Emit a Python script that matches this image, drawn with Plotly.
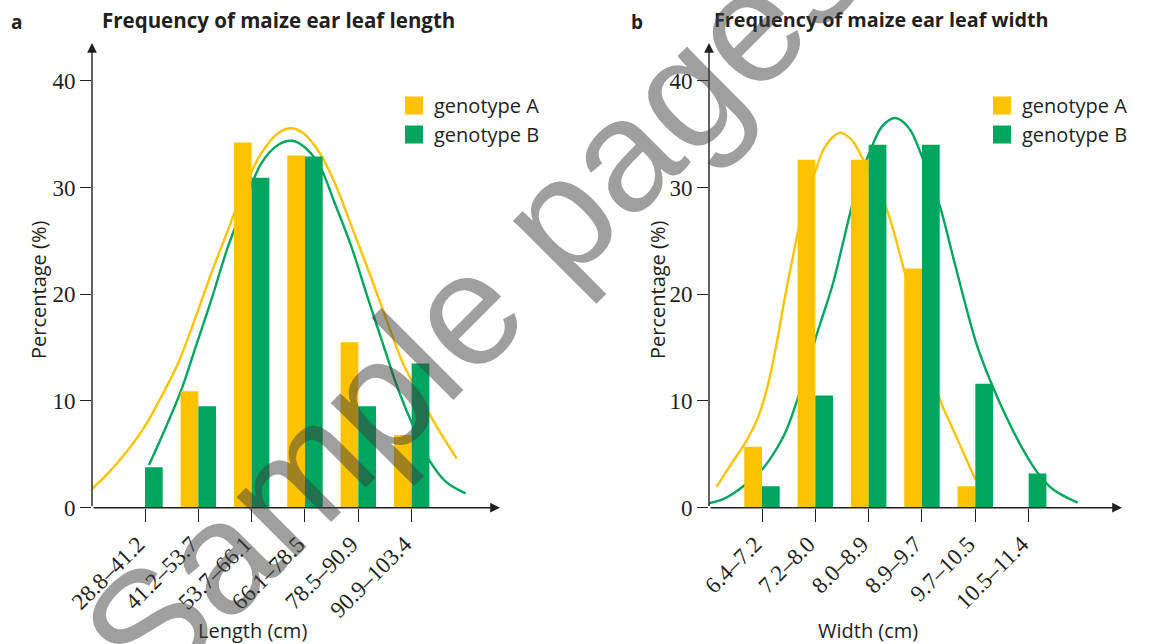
import plotly.graph_objects as go

# ---------------- data ----------------
len_categories = ["28.8–41.2", "41.2–53.7", "53.7–66.1", "66.1–78.5", "78.5–90.9", "90.9–103.4"]
len_genotype_a = [0, 10.9, 34.2, 33.0, 15.5, 6.8]
len_genotype_b = [3.8, 9.5, 30.9, 32.9, 9.5, 13.5]

wid_categories = ["6.4–7.2", "7.2–8.0", "8.0–8.9", "8.9–9.7", "9.7–10.5", "10.5–11.4"]
wid_genotype_a = [5.7, 32.6, 32.6, 22.4, 2.0, 0]
wid_genotype_b = [2.0, 10.5, 34.0, 34.0, 11.6, 3.2]

# fitted curves (x in category-index units)
len_curve_a_x = [-0.99, -0.694, -0.319, -0.006, 0.306, 0.619, 0.931, 1.244, 1.556, 1.869, 2.181, 2.494, 2.744,
                 2.97, 3.28, 3.59, 3.9, 4.21, 4.53, 4.84, 5.16, 5.47, 5.845]
len_curve_a_y = [1.8, 3.22, 5.41, 7.59, 10.4, 13.5, 17.6, 21.96, 26.0, 30.07, 33.2, 35.07, 35.54,
                 35.07, 33.2, 30.07, 26.0, 21.96, 17.6, 13.5, 10.4, 7.59, 4.6]
len_curve_b_x = [0.075, 0.369, 0.681, 0.931, 1.244, 1.556, 1.869, 2.181, 2.494, 2.744,
                 2.94, 3.25, 3.56, 3.87, 4.19, 4.5, 4.75, 5.06, 5.35, 5.65, 6.013]
len_curve_b_y = [4.0, 7.28, 11.03, 14.77, 19.46, 24.45, 28.5, 32.26, 33.98, 34.38,
                 33.98, 32.26, 28.5, 24.45, 19.46, 14.77, 11.03, 7.28, 4.3, 2.4, 1.35]

wid_curve_a_x = [-0.85, -0.569, -0.319, -0.069, 0.119, 0.275, 0.431, 0.587, 0.681, 0.85, 1.006, 1.181, 1.462,
                 1.681, 1.869, 2.1, 2.344, 2.681, 3.0, 3.3375, 3.5875, 3.8375, 4.006]
wid_curve_a_y = [1.97, 4.16, 6.03, 8.53, 11.65, 15.4, 19.77, 23.7, 26.0, 29.3, 31.6, 33.8, 35.13,
                 34.45, 32.88, 30.6, 27.9, 21.95, 15.8, 10.1, 7.28, 4.47, 2.6]
wid_curve_b_x = [-1.006, -0.694, -0.319, -0.006, 0.181, 0.431, 0.681, 0.994, 1.331, 1.494, 1.669, 1.85, 2.087,
                 2.25, 2.494, 2.75, 3.0, 3.3375, 3.5875, 3.8375, 4.025, 4.275, 4.59, 4.9, 5.15, 5.46, 5.92]
wid_curve_b_y = [0.41, 0.88, 2.13, 3.53, 4.78, 6.97, 10.4, 15.7, 21.0, 24.3, 27.9, 31.0, 34.13,
                 35.7, 36.5, 35.6, 32.9, 28.2, 23.4, 18.6, 15.3, 11.96, 8.4, 5.4, 3.4, 1.7, 0.47]

y_ticks = [0, 10, 20, 30, 40]

# ---------------- style ----------------
YELLOW = "#FDC300"
GREEN = "#00A55F"
INK = "#231F20"
W, H = 1170, 644
SERIF = "Liberation Serif"
SANS = "Open Sans"

idx = list(range(len(len_categories)))

fig = go.Figure()

# curves (base axes, drawn below bars)
for cx, cy, xa, ya, col in [(len_curve_a_x, len_curve_a_y, "x", "y", YELLOW),
                            (len_curve_b_x, len_curve_b_y, "x", "y", GREEN),
                            (wid_curve_a_x, wid_curve_a_y, "x2", "y2", YELLOW),
                            (wid_curve_b_x, wid_curve_b_y, "x2", "y2", GREEN)]:
    fig.add_trace(go.Scatter(x=cx, y=cy, mode="lines", line=dict(color=col, width=2.4, shape="spline", smoothing=1.0),
                             xaxis=xa, yaxis=ya, showlegend=False, hoverinfo="skip"))

# bars (overlay axes, drawn above curves)
for vals, col, xa, ya, grp in [(len_genotype_a, YELLOW, "x3", "y3", "a"), (len_genotype_b, GREEN, "x3", "y3", "b"),
                               (wid_genotype_a, YELLOW, "x4", "y4", "a"), (wid_genotype_b, GREEN, "x4", "y4", "b")]:
    fig.add_trace(go.Bar(x=idx, y=vals, marker_color=col, marker_line_width=0, xaxis=xa, yaxis=ya,
                         offsetgroup=grp, showlegend=False))

# legend entries
for name, col, leg in [("genotype A", YELLOW, "legend"), ("genotype B", GREEN, "legend"),
                       ("genotype A", YELLOW, "legend2"), ("genotype B", GREEN, "legend2")]:
    fig.add_trace(go.Scatter(x=[None], y=[None], mode="markers", name=name,
                             marker=dict(symbol="square", size=16, color=col, line=dict(color=col, width=2)),
                             xaxis="x" if leg == "legend" else "x2", yaxis="y" if leg == "legend" else "y2",
                             legend=leg))

# ---------------- axes ----------------
x_px_left = (92, 500)
x_px_right = (709, 1122)
cat0_left, cat0_right, step = 145, 762, 53.33
y0_px, y_top_px, y_scale = 507.7, 43, 10.675

xr_left = [(x_px_left[0] - cat0_left) / step, (x_px_left[1] - cat0_left) / step]
xr_right = [(x_px_right[0] - cat0_right) / step, (x_px_right[1] - cat0_right) / step]
yr = [0, (y0_px - y_top_px) / y_scale]
ydom = [(H - y0_px) / H, (H - y_top_px) / H]

xcommon = dict(showgrid=False, zeroline=False, showline=False, ticks="outside", ticklen=13, tickwidth=1.3,
               tickcolor=INK, tickangle=-45, tickfont=dict(family=SERIF, size=23, color=INK), tickvals=idx,
               automargin=False, ticklabelshift=-7)
ycommon = dict(showgrid=False, zeroline=False, showline=False, ticks="outside", ticklen=11, tickwidth=1.3,
               tickcolor=INK, tickvals=y_ticks, tickfont=dict(family=SERIF, size=23, color=INK),
               range=yr, domain=ydom, automargin=False)

fig.update_layout(
    template="none",
    xaxis=dict(domain=[x_px_left[0] / W, x_px_left[1] / W], range=xr_left, ticktext=len_categories, anchor="y", **xcommon),
    yaxis=dict(anchor="x", **ycommon),
    xaxis2=dict(domain=[x_px_right[0] / W, x_px_right[1] / W], range=xr_right, ticktext=wid_categories, anchor="y2", **xcommon),
    yaxis2=dict(anchor="x2", **ycommon),
    xaxis3=dict(overlaying="x", range=xr_left, visible=False, anchor="y3"),
    yaxis3=dict(overlaying="y", range=yr, visible=False, anchor="x3"),
    xaxis4=dict(overlaying="x2", range=xr_right, visible=False, anchor="y4"),
    yaxis4=dict(overlaying="y2", range=yr, visible=False, anchor="x4"),
    barmode="group", bargap=0.335, bargroupgap=0,
    width=W, height=H, margin=dict(l=0, r=0, t=0, b=0, pad=0, autoexpand=False),
    paper_bgcolor="white", plot_bgcolor="rgba(0,0,0,0)",
    font=dict(family=SANS, color=INK),
    legend=dict(x=394 / W, y=(H - 86) / H, xanchor="left", yanchor="top", bgcolor="rgba(0,0,0,0)",
                font=dict(family=SANS, size=20, color=INK), tracegroupgap=0, itemclick=False),
    legend2=dict(x=982 / W, y=(H - 86) / H, xanchor="left", yanchor="top", bgcolor="rgba(0,0,0,0)",
                 font=dict(family=SANS, size=20, color=INK), tracegroupgap=0, itemclick=False),
)

annotations = []
# axis lines with arrowheads
for xa, ya, xr in [("x", "y", xr_left), ("x2", "y2", xr_right)]:
    annotations.append(dict(x=xr[1], y=0, ax=xr[0], ay=0, xref=xa, yref=ya, axref=xa, ayref=ya, text="",
                            showarrow=True, arrowhead=2, arrowsize=1.4, arrowwidth=1.4, arrowcolor=INK, standoff=0))
    annotations.append(dict(x=xr[0], y=yr[1], ax=xr[0], ay=0, xref=xa, yref=ya, axref=xa, ayref=ya, text="",
                            showarrow=True, arrowhead=2, arrowsize=1.4, arrowwidth=1.4, arrowcolor=INK, standoff=0))

def label(text, x, y, size, bold=False, angle=0, family=SANS, color=INK):
    return dict(text=text, x=x / W, y=(H - y) / H, xref="paper", yref="paper", showarrow=False,
                xanchor="center", yanchor="middle", textangle=angle,
                font=dict(family=family, size=size, color=color, weight="bold" if bold else "normal"))

annotations += [
    label("a", 16, 22, 19, bold=True),
    label("b", 637, 22, 19, bold=True),
    label("Frequency of maize ear leaf length", 278, 20, 20.5, bold=True),
    label("Frequency of maize ear leaf width", 881, 20, 19.8, bold=True),
    label("Percentage (%)", 38, 290, 20, angle=-90),
    label("Percentage (%)", 657, 290, 20, angle=-90),
    label("Length (cm)", 252, 630, 20),
    label("Width (cm)", 868, 630, 20),
    # watermark
    label("Sample pages", 472, 302, 160, family="Liberation Sans", angle=-45, color="rgba(64,64,64,0.5)"),
]
fig.update_layout(annotations=annotations)

fig.write_html("out.html")
